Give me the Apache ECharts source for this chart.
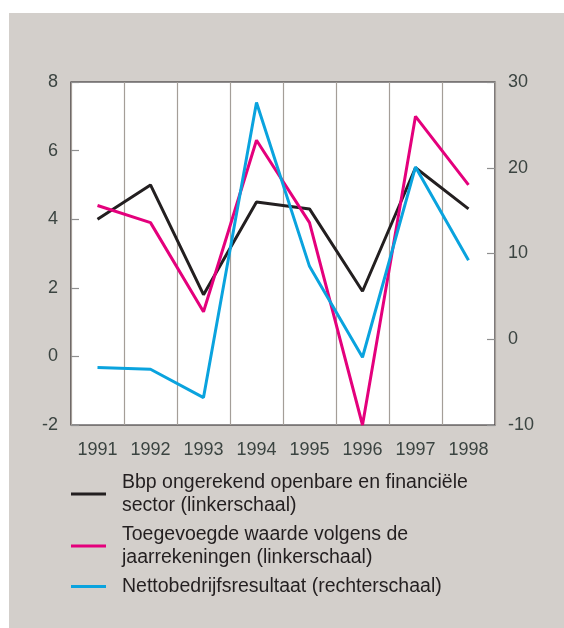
<!DOCTYPE html>
<html>
<head>
<meta charset="utf-8">
<script src="https://cdn.jsdelivr.net/npm/echarts@6/dist/echarts.min.js"></script>
<style>
html,body{margin:0;padding:0;background:#ffffff;}
#chart{position:absolute;left:9px;top:13px;width:555px;height:615px;background:#d3cfcb;}
</style>
</head>
<body>
<div id="chart"></div>
<script>
const years = ['1991','1992','1993','1994','1995','1996','1997','1998'];
const bbp = [4.0, 5.0, 1.8, 4.5, 4.3, 1.9, 5.5, 4.3];
const toegevoegd = [4.4, 3.9, 1.3, 6.3, 3.9, -2.0, 7.0, 5.0];
const netto = [-3.3, -3.5, -6.8, 27.6, 8.5, -2.1, 20.1, 9.2];
const leftTicks = [-2, 0, 2, 4, 6, 8];
const rightTicks = [-10, 0, 10, 20, 30];
const names = [
  'Bbp ongerekend openbare en financiële\nsector (linkerschaal)',
  'Toegevoegde waarde volgens de\njaarrekeningen (linkerschaal)',
  'Nettobedrijfsresultaat (rechterschaal)'
];
const colors = ['#231f20', '#e4007c', '#0aa3de'];
const textColor = '#3b4441';
const font = '"Liberation Sans", Arial, sans-serif';

const chart = echarts.init(document.getElementById('chart'));
chart.setOption({
  backgroundColor: '#d3cfcb',
  animation: false,
  textStyle: { fontFamily: font },
  grid: {
    left: 62, right: 69, top: 69, bottom: 203,
    show: true, backgroundColor: '#ffffff', borderColor: '#231f20', borderWidth: 1.2
  },
  legend: {
    orient: 'vertical',
    left: 62, top: 458,
    padding: 0,
    itemWidth: 35, itemHeight: 3,
    itemGap: 6,
    icon: 'rect',
    data: names,
    textStyle: { fontSize: 19.5, color: '#231f20', lineHeight: 23, padding: [0, 0, 0, 11], fontFamily: font }
  },
  xAxis: {
    type: 'category',
    data: years,
    boundaryGap: true,
    axisLine: { show: false },
    axisTick: { show: false },
    axisLabel: { color: textColor, fontSize: 18, margin: 16, fontFamily: font },
    splitLine: { show: true, lineStyle: { color: '#a49e98', width: 1.2 } }
  },
  yAxis: [
    {
      type: 'value', min: -2, max: 8, interval: 2,
      axisLine: { show: false },
      axisTick: { show: true, inside: true, length: 8, lineStyle: { color: '#8f8f8f', width: 1.2 } },
      axisLabel: { color: textColor, fontSize: 18, margin: 13, fontFamily: font },
      splitLine: { show: false }
    },
    {
      type: 'value', min: -10, max: 30, interval: 10,
      axisLine: { show: false },
      axisTick: { show: true, inside: true, length: 8, lineStyle: { color: '#8f8f8f', width: 1.2 } },
      axisLabel: { color: textColor, fontSize: 18, margin: 13, fontFamily: font },
      splitLine: { show: false }
    }
  ],
  series: [
    { name: names[0], type: 'line', yAxisIndex: 0, data: bbp, symbol: 'none',
      lineStyle: { color: colors[0], width: 3 }, itemStyle: { color: colors[0] }, z: 3 },
    { name: names[1], type: 'line', yAxisIndex: 0, data: toegevoegd, symbol: 'none',
      lineStyle: { color: colors[1], width: 3 }, itemStyle: { color: colors[1] }, z: 4 },
    { name: names[2], type: 'line', yAxisIndex: 1, data: netto, symbol: 'none',
      lineStyle: { color: colors[2], width: 3 }, itemStyle: { color: colors[2] }, z: 5 }
  ]
});
</script>
</body>
</html>
